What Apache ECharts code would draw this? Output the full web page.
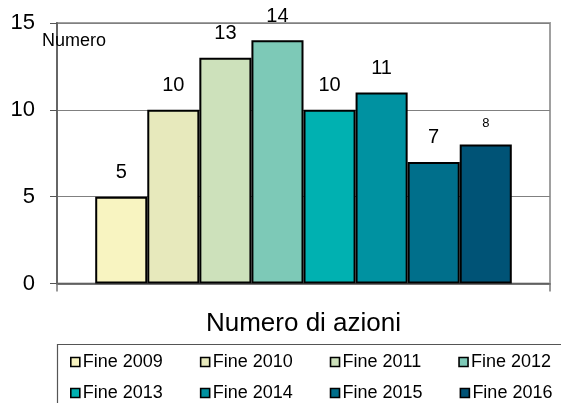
<!DOCTYPE html>
<html>
<head>
<meta charset="utf-8">
<script src="https://cdn.jsdelivr.net/npm/echarts@6/dist/echarts.min.js"></script>
<style>
html,body{margin:0;padding:0;background:#fff;}
#chart{width:561px;height:403px;}
</style>
</head>
<body>
<div id="chart"></div>
<script>
// ---- data ----
const categories = ['Numero di azioni'];
const seriesNames = ['Fine 2009','Fine 2010','Fine 2011','Fine 2012','Fine 2013','Fine 2014','Fine 2015','Fine 2016'];
const values = [5, 10, 13, 14, 10, 11, 7, 8];
const yMin = 0, yMax = 15, yInterval = 5;
const yAxisTitle = 'Numero';

// ---- styles ----
const palette = ['#F8F4C1','#E7E9BC','#CDE1BB','#7DC9B7','#00B1B1','#0092A1','#006F8B','#005376'];
const FONT = "'Liberation Sans', Arial, sans-serif";

const chart = echarts.init(document.getElementById('chart'), null, {renderer:'canvas'});

const series = seriesNames.map((name, i) => ({
  name: name,
  type: 'bar',
  data: [values[i]],
  barGap: '0%',
  barCategoryGap: '15.5%',
  itemStyle: { color: palette[i], borderColor: '#000', borderWidth: 2 },
  label: {
    show: true, position: 'top', distance: i === 7 ? 15 : 14,
    color: '#000', fontFamily: FONT, fontSize: i === 7 ? 13 : 20
  },
  emphasis: { disabled: true }
}));

const legendCommon = {
  orient: 'horizontal',
  left: 70,
  padding: 0,
  itemGap: 37,
  itemWidth: 9,
  itemHeight: 9,
  icon: 'rect',
  selectedMode: false,
  itemStyle: { borderColor: '#000', borderWidth: 1.6 },
  textStyle: { color: '#000', fontFamily: FONT, fontSize: 18, lineHeight: 20, padding: [0,0,0,-2] }
};

chart.setOption({
  animation: false,
  backgroundColor: '#fff',
  color: palette,
  grid: { left: 57, right: 11, top: 23, bottom: 119.5, containLabel: false,
          show: true, borderColor: '#a0a0a0', borderWidth: 2, backgroundColor: 'transparent' },
  xAxis: {
    type: 'category',
    data: categories,
    axisLine: { show: true, lineStyle: { color: '#555', width: 1.5 } },
    axisTick: { show: true, length: 8, lineStyle: { color: '#777', width: 1.5 } },
    axisLabel: { color: '#000', fontFamily: FONT, fontSize: 26, margin: 27 }
  },
  yAxis: {
    type: 'value',
    min: yMin, max: yMax, interval: yInterval,
    axisLine: { show: true, lineStyle: { color: '#666', width: 2 } },
    axisTick: { show: true, length: 7, lineStyle: { color: '#555', width: 1 } },
    splitLine: { show: true, lineStyle: { color: '#808080', width: 1 } },
    axisLabel: { color: '#000', fontFamily: FONT, fontSize: 22, margin: 22 }
  },
  legend: [
    Object.assign({}, legendCommon, { top: 352, data: seriesNames.slice(0, 4) }),
    Object.assign({}, legendCommon, { top: 383, data: seriesNames.slice(4, 8) })
  ],
  graphic: [
    { type: 'rect', left: 55, top: 342, shape: { width: 520, height: 80 },
      style: { fill: 'none', stroke: '#555', lineWidth: 1.2 }, z: -1, silent: true },
    { type: 'text', left: 42, top: 32,
      style: { text: yAxisTitle, fill: '#000', font: '18px ' + FONT }, z: 10 }
  ],
  series: series
});
</script>
</body>
</html>
